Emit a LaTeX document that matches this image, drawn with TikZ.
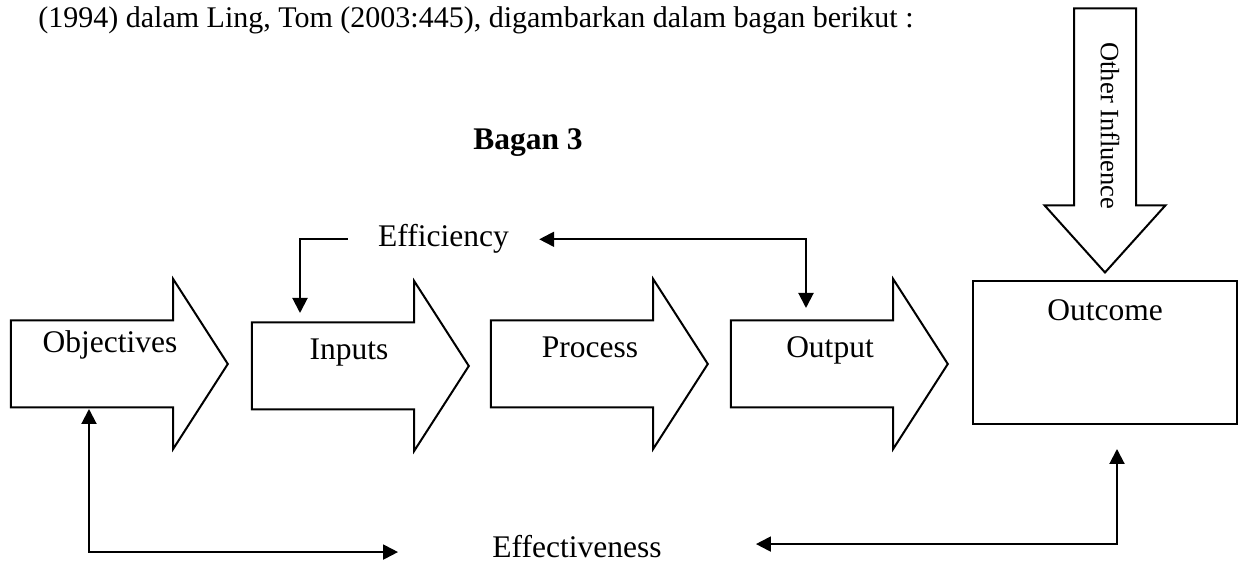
\documentclass[tikz,border=0pt]{standalone}
\usepackage{fontspec}
\setmainfont{Liberation Serif}
\usetikzlibrary{shapes.arrows,arrows.meta}

\tikzset{
  blockarrow/.style={draw, line width=1pt, single arrow,
    single arrow head extend=20.75pt, single arrow tip angle=114.5,
    inner xsep=0pt, inner ysep=21.25pt, minimum height=108.5pt, anchor=tip},
  lbl/.style={inner sep=0pt, font=\fontsize{15.75}{18}\selectfont},
  conn/.style={line width=1pt, -{Triangle[length=7.5pt,width=7.5pt]}},
  conn2/.style={line width=1pt,
    {Triangle[length=7.5pt,width=7.5pt]}-{Triangle[length=7.5pt,width=7.5pt]}}
}

\begin{document}
\begin{tikzpicture}[x=0.5pt, y=-0.5pt]
\useasboundingbox (0,0) rectangle (1239,565);

\node[anchor=base west, inner sep=0pt, font=\fontsize{15}{18}\selectfont] (intro) at (38,28)
  {(1994) dalam Ling, Tom (2003:445), digambarkan dalam bagan berikut :};
\node[lbl, anchor=base, font=\bfseries\fontsize{15.75}{18}\selectfont] (bagan) at (528,150) {Bagan 3};

% the four block arrows
\node[blockarrow] (obj) at (229,364) {};
\node[blockarrow] (inp) at (470,366) {};
\node[blockarrow] (proc) at (709,364) {};
\node[blockarrow] (outp) at (949,364) {};
\node[lbl, anchor=base] (objtxt) at (110,353) {Objectives};
\node[lbl, anchor=base] (inptxt) at (349,360) {Inputs};
\node[lbl, anchor=base] (proctxt) at (590,358) {Process};
\node[lbl, anchor=base] (outptxt) at (830,358) {Output};

% outcome and the outside influence
\node[draw, line width=1pt, minimum width=132pt, minimum height=71.5pt] (outc) at (1105,352.5) {};
\node[lbl, anchor=base] (outctxt) at (1105,321) {Outcome};
\node[draw, line width=1pt, single arrow, single arrow head extend=14.75pt,
  single arrow tip angle=84, inner xsep=0pt, inner ysep=15pt,
  minimum height=132pt, rotate=-90, anchor=tip] (oth) at (1105,274) {};
\node[lbl, font=\fontsize{13.25}{15}\selectfont, rotate=-90] (othtxt) at (1110,126) {Other Influence};

\node[lbl, anchor=base, inner xsep=15pt] (eff) at (443.5,247) {Efficiency};
\node[lbl, anchor=base, inner xsep=47pt] (effv) at (577,558) {Effectiveness};

\coordinate (inpin) at (300,313);
\coordinate (outpin) at (806,308);
\coordinate (objin) at (89,409);
\coordinate (outcin) at (1117,449);

\draw[conn] (eff.west) -| (inpin);
\draw[conn2] (eff.east) -| (outpin);
\draw[conn2] (objin) |- ([yshift=-2.5pt]effv.west);
\draw[conn2] ([yshift=1.5pt]effv.east) -| (outcin);
\end{tikzpicture}
\end{document}
